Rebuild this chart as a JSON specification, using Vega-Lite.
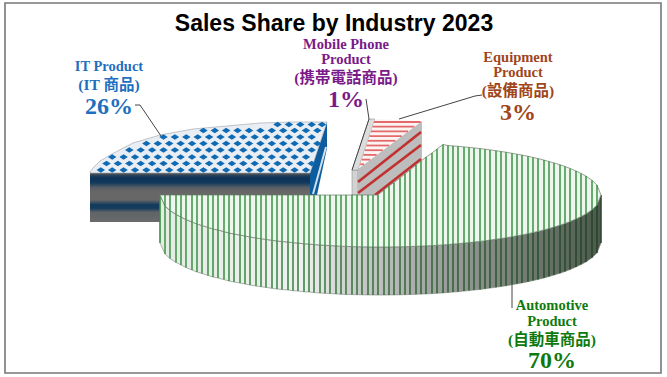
{"$schema":"https://vega.github.io/schema/vega-lite/v6.json","width":667,"height":377,"padding":0,"autosize":{"type":"fit","contains":"padding"},"background":"white","config":{"view":{"stroke":null}},
"datasets":{
"auto":[{"x":160,"top":195,"mid":195,"bot":243},{"x":165,"top":195,"mid":206,"bot":254},{"x":170,"top":195,"mid":210.5,"bot":258.5},{"x":176,"top":195,"mid":214.4,"bot":262.4},{"x":181,"top":195,"mid":217,"bot":265},{"x":186,"top":195,"mid":219.5,"bot":267.5},{"x":192,"top":195,"mid":222,"bot":270},{"x":197,"top":195,"mid":224,"bot":272},{"x":202,"top":195,"mid":225.5,"bot":273.5},{"x":208,"top":195,"mid":227.4,"bot":275.4},{"x":213,"top":195,"mid":229,"bot":277},{"x":218,"top":195,"mid":230,"bot":278},{"x":224,"top":195,"mid":231.6,"bot":279.6},{"x":229,"top":195,"mid":233,"bot":281},{"x":234,"top":195,"mid":234,"bot":282},{"x":240,"top":195,"mid":235,"bot":283},{"x":245,"top":195,"mid":236,"bot":284},{"x":250,"top":195,"mid":237,"bot":285},{"x":256,"top":195,"mid":238,"bot":286},{"x":261,"top":195,"mid":238.7,"bot":286.7},{"x":266,"top":195,"mid":239.4,"bot":287.4},{"x":272,"top":195,"mid":240.3,"bot":288.3},{"x":277,"top":195,"mid":241,"bot":289},{"x":282,"top":195,"mid":241.5,"bot":289.5},{"x":288,"top":195,"mid":242,"bot":290},{"x":293,"top":195,"mid":242.7,"bot":290.7},{"x":298,"top":195,"mid":243,"bot":291},{"x":304,"top":195,"mid":243.8,"bot":291.8},{"x":309,"top":195,"mid":244,"bot":292},{"x":314,"top":195,"mid":244.6,"bot":292.6},{"x":320,"top":195,"mid":245,"bot":293},{"x":325,"top":195,"mid":245.3,"bot":293.3},{"x":330,"top":195,"mid":245.6,"bot":293.6},{"x":336,"top":195,"mid":245.9,"bot":293.9},{"x":341,"top":195,"mid":246.2,"bot":294.2},{"x":346,"top":195,"mid":246.4,"bot":294.4},{"x":352,"top":195,"mid":246.6,"bot":294.6},{"x":357,"top":195,"mid":246.7,"bot":294.7},{"x":362,"top":195,"mid":246.8,"bot":294.8},{"x":368,"top":195,"mid":246.9,"bot":294.9},{"x":373,"top":195,"mid":247,"bot":295},{"x":378,"top":195,"mid":247,"bot":295},{"x":384,"top":190,"mid":247,"bot":295},{"x":389,"top":186,"mid":247,"bot":295},{"x":394,"top":182.5,"mid":246.9,"bot":294.9},{"x":400,"top":178,"mid":246.8,"bot":294.8},{"x":405,"top":174,"mid":246.7,"bot":294.7},{"x":410,"top":170,"mid":246.5,"bot":294.5},{"x":416,"top":165,"mid":246.3,"bot":294.3},{"x":421,"top":161,"mid":246.1,"bot":294.1},{"x":426,"top":157,"mid":245.9,"bot":293.9},{"x":432,"top":153,"mid":245.6,"bot":293.6},{"x":437,"top":149,"mid":245.3,"bot":293.3},{"x":443,"top":144.5,"mid":244.9,"bot":292.9},{"x":448,"top":145.5,"mid":244.5,"bot":292.5},{"x":453,"top":145.9,"mid":244.1,"bot":292.1},{"x":458,"top":146.3,"mid":243.7,"bot":291.7},{"x":464,"top":146.9,"mid":243.1,"bot":291.1},{"x":469,"top":147.4,"mid":242.6,"bot":290.6},{"x":474,"top":147.9,"mid":242.1,"bot":290.1},{"x":480,"top":148.6,"mid":241.4,"bot":289.4},{"x":485,"top":149.2,"mid":240.8,"bot":288.8},{"x":490,"top":149.9,"mid":240.1,"bot":288.1},{"x":496,"top":150.7,"mid":239.3,"bot":287.3},{"x":501,"top":151.5,"mid":238.5,"bot":286.5},{"x":506,"top":152.2,"mid":237.8,"bot":285.8},{"x":512,"top":153.3,"mid":236.7,"bot":284.7},{"x":517,"top":154.2,"mid":235.8,"bot":283.8},{"x":522,"top":155.1,"mid":234.9,"bot":282.9},{"x":528,"top":156.3,"mid":233.7,"bot":281.7},{"x":533,"top":157.4,"mid":232.6,"bot":280.6},{"x":538,"top":158.6,"mid":231.4,"bot":279.4},{"x":544,"top":160.1,"mid":229.9,"bot":277.9},{"x":549,"top":161.5,"mid":228.5,"bot":276.5},{"x":554,"top":162.9,"mid":227.1,"bot":275.1},{"x":560,"top":164.8,"mid":225.2,"bot":273.2},{"x":565,"top":166.5,"mid":223.5,"bot":271.5},{"x":570,"top":168.4,"mid":221.6,"bot":269.6},{"x":576,"top":171,"mid":219,"bot":267},{"x":581,"top":173.4,"mid":216.6,"bot":264.6},{"x":586,"top":176.1,"mid":213.9,"bot":261.9},{"x":592,"top":180.3,"mid":209.7,"bot":257.7},{"x":597,"top":185.1,"mid":204.9,"bot":252.9},{"x":601,"top":195,"mid":195,"bot":243}],
"diamonds":[
{"x":100.8,"y":170},{"x":112.2,"y":170},{"x":123.6,"y":170},{"x":135,"y":170},{"x":146.4,"y":170},{"x":157.8,"y":170},{"x":169.2,"y":170},{"x":180.6,"y":170},{"x":192,"y":170},{"x":203.4,"y":170},{"x":214.8,"y":170},{"x":226.2,"y":170},{"x":237.6,"y":170},{"x":249,"y":170},{"x":260.4,"y":170},{"x":271.8,"y":170},{"x":283.2,"y":170},{"x":294.6,"y":170},{"x":306,"y":170},
{"x":106.5,"y":163.5},{"x":117.9,"y":163.5},{"x":129.3,"y":163.5},{"x":140.7,"y":163.5},{"x":152.1,"y":163.5},{"x":163.5,"y":163.5},{"x":174.9,"y":163.5},{"x":186.3,"y":163.5},{"x":197.7,"y":163.5},{"x":209.1,"y":163.5},{"x":220.5,"y":163.5},{"x":231.9,"y":163.5},{"x":243.3,"y":163.5},{"x":254.7,"y":163.5},{"x":266.1,"y":163.5},{"x":277.5,"y":163.5},{"x":288.9,"y":163.5},{"x":300.3,"y":163.5},{"x":311.7,"y":163.5},
{"x":112.2,"y":157},{"x":123.6,"y":157},{"x":135,"y":157},{"x":146.4,"y":157},{"x":157.8,"y":157},{"x":169.2,"y":157},{"x":180.6,"y":157},{"x":192,"y":157},{"x":203.4,"y":157},{"x":214.8,"y":157},{"x":226.2,"y":157},{"x":237.6,"y":157},{"x":249,"y":157},{"x":260.4,"y":157},{"x":271.8,"y":157},{"x":283.2,"y":157},{"x":294.6,"y":157},{"x":306,"y":157},
{"x":129.3,"y":150},{"x":140.7,"y":150},{"x":152.1,"y":150},{"x":163.5,"y":150},{"x":174.9,"y":150},{"x":186.3,"y":150},{"x":197.7,"y":150},{"x":209.1,"y":150},{"x":220.5,"y":150},{"x":231.9,"y":150},{"x":243.3,"y":150},{"x":254.7,"y":150},{"x":266.1,"y":150},{"x":277.5,"y":150},{"x":288.9,"y":150},{"x":300.3,"y":150},{"x":311.7,"y":150},
{"x":146.4,"y":143.5},{"x":157.8,"y":143.5},{"x":169.2,"y":143.5},{"x":180.6,"y":143.5},{"x":192,"y":143.5},{"x":203.4,"y":143.5},{"x":214.8,"y":143.5},{"x":226.2,"y":143.5},{"x":237.6,"y":143.5},{"x":249,"y":143.5},{"x":260.4,"y":143.5},{"x":271.8,"y":143.5},{"x":283.2,"y":143.5},{"x":294.6,"y":143.5},{"x":306,"y":143.5},{"x":317.4,"y":143.5},
{"x":163.5,"y":137},{"x":174.9,"y":137},{"x":186.3,"y":137},{"x":197.7,"y":137},{"x":209.1,"y":137},{"x":220.5,"y":137},{"x":231.9,"y":137},{"x":243.3,"y":137},{"x":254.7,"y":137},{"x":266.1,"y":137},{"x":277.5,"y":137},{"x":288.9,"y":137},{"x":300.3,"y":137},{"x":311.7,"y":137},
{"x":203.4,"y":130.5},{"x":214.8,"y":130.5},{"x":226.2,"y":130.5},{"x":237.6,"y":130.5},{"x":249,"y":130.5},{"x":260.4,"y":130.5},{"x":271.8,"y":130.5},{"x":283.2,"y":130.5},{"x":294.6,"y":130.5},{"x":306,"y":130.5},{"x":317.4,"y":130.5},
{"x":277.5,"y":124.5},{"x":288.9,"y":124.5},{"x":300.3,"y":124.5},{"x":311.7,"y":124.5},{"x":322,"y":124.5}],
"leaders":[{"x":135,"y":105,"x2":140,"y2":105},{"x":140,"y":105,"x2":161,"y2":136},{"x":366,"y":99,"x2":369,"y2":119},{"x":369,"y":119,"x2":352,"y2":170},{"x":482,"y":95,"x2":475,"y2":96},{"x":475,"y":96,"x2":399,"y2":119},{"x":512,"y":285,"x2":512,"y2":308}],
"names":[{"text":"IT Product","segment":"IT","x":109,"y":67},{"text":"Mobile Phone","segment":"Mobile","x":346,"y":45},{"text":"Product","segment":"Mobile","x":346,"y":60},{"text":"Equipment","segment":"Equipment","x":518,"y":58},{"text":"Product","segment":"Equipment","x":518,"y":73},{"text":"Automotive","segment":"Automotive","x":552,"y":306},{"text":"Product","segment":"Automotive","x":552,"y":322}],
"names2":[{"text":"(IT 商品)","segment":"IT","x":109,"y":85},{"text":"(携帯電話商品)","segment":"Mobile","x":346,"y":78},{"text":"(設備商品)","segment":"Equipment","x":518,"y":91},{"text":"(自動車商品)","segment":"Automotive","x":552,"y":340}],
"shares":[{"text":"26%","segment":"IT","x":109,"y":107},{"text":"1%","segment":"Mobile","x":346,"y":100},{"text":"3%","segment":"Equipment","x":518,"y":113},{"text":"70%","segment":"Automotive","x":552,"y":361}]
},
"encoding":{"x":{"field":"x","type":"quantitative","scale":{"domain":[0,667],"nice":false,"zero":false},"axis":null},"y":{"field":"y","type":"quantitative","scale":{"domain":[0,377],"nice":false,"zero":false,"reverse":true},"axis":null}},
"layer":[
{"data":{"values":[{"x":5,"y":3,"x2":661,"y2":373}]},"mark":{"type":"rect","fill":"white","stroke":"#777777","strokeWidth":1.6},"encoding":{"x2":{"field":"x2"},"y2":{"field":"y2"}}},
{"data":{"values":[{"x":90,"y":173,"y2":222},{"x":310,"y":173,"y2":222}]},"mark":{"type":"area","fill":{"gradient":"linear","x1":0,"y1":0,"x2":0,"y2":1,"stops":[{"offset":0,"color":"#5f5f5f"},{"offset":0.05,"color":"#2a4158"},{"offset":0.1,"color":"#0c3358"},{"offset":0.2,"color":"#123a5c"},{"offset":0.3,"color":"#5a5f66"},{"offset":0.38,"color":"#676767"},{"offset":0.55,"color":"#676767"},{"offset":0.65,"color":"#123a5c"},{"offset":0.72,"color":"#143c5e"},{"offset":0.8,"color":"#5f6468"},{"offset":1,"color":"#6a6a6a"}]}},"encoding":{"y2":{"field":"y2"}}},
{"data":{"values":[{"x":310,"y":173,"y2":195},{"x":317,"y":152,"y2":195},{"x":327,"y":122,"y2":148}]},"mark":{"type":"area","fill":"#0d5c9e"},"encoding":{"y2":{"field":"y2"}}},
{"data":{"values":[{"x":313,"y":194,"x2":326,"y2":147}]},"mark":{"type":"rule","stroke":"#cfe0ef","strokeWidth":2},"encoding":{"x2":{"field":"x2"},"y2":{"field":"y2"}}},
{"data":{"values":[{"x":90,"y":172,"y2":173},{"x":93,"y":168,"y2":173},{"x":100,"y":161,"y2":173},{"x":110,"y":155,"y2":173},{"x":133,"y":143,"y2":173},{"x":160,"y":135,"y2":173},{"x":193,"y":129,"y2":173},{"x":227,"y":126,"y2":173},{"x":260,"y":123,"y2":173},{"x":293,"y":122,"y2":173},{"x":310,"y":122,"y2":173},{"x":327,"y":122,"y2":122}]},"mark":{"type":"area","fill":"#e9eef4","stroke":"#9aa0a6","strokeWidth":0.6},"encoding":{"y2":{"field":"y2"}}},
{"data":{"name":"diamonds"},"mark":{"type":"point","filled":true,"opacity":1,"shape":"M-1,0L0,-0.65L1,0L0,0.65Z","size":72,"fill":"#0f6ab4","strokeWidth":0}},
{"data":{"values":[{"x":352,"y":170,"y2":195},{"x":358,"y":170,"y2":195}]},"mark":{"type":"area","fill":"#d2d2d2","stroke":"#909090","strokeWidth":0.6},"encoding":{"y2":{"field":"y2"}}},
{"data":{"values":[{"x":352,"y":170,"y2":170},{"x":358,"y":152,"y2":170},{"x":369,"y":119,"y2":137},{"x":375,"y":119,"y2":119}]},"mark":{"type":"area","fill":"#dcdcdc","stroke":"#909090","strokeWidth":0.6},"encoding":{"y2":{"field":"y2"}}},
{"data":{"values":[{"x":358,"y":169,"y2":195},{"x":378,"y":154,"y2":195},{"x":422,"y":121,"y2":160}]},"mark":{"type":"area","fill":"#bdbdbd"},"encoding":{"y2":{"field":"y2"}}},
{"data":{"values":[{"x":358,"y":182,"x2":421,"y2":132},{"x":358,"y":193,"x2":421,"y2":145},{"x":375,"y":195,"x2":421,"y2":159}]},"mark":{"type":"rule","stroke":"#c2302f","strokeWidth":2.6},"encoding":{"x2":{"field":"x2"},"y2":{"field":"y2"}}},
{"data":{"values":[{"x":359,"y":168,"y2":168},{"x":375,"y":119,"y2":156},{"x":422,"y":121,"y2":121}]},"mark":{"type":"area","fill":"#fdf3f3"},"encoding":{"y2":{"field":"y2"}}},
{"data":{"values":[{"x":374,"x2":420.6,"y":122},{"x":372.5,"x2":414.3,"y":126.7},{"x":371,"x2":408,"y":131.4},{"x":369.4,"x2":401.8,"y":136.1},{"x":367.9,"x2":395.4,"y":140.8},{"x":366.4,"x2":389.2,"y":145.5},{"x":364.8,"x2":382.8,"y":150.2},{"x":363.3,"x2":376.6,"y":154.9},{"x":361.8,"x2":370.3,"y":159.6},{"x":360.2,"x2":364,"y":164.3}]},"mark":{"type":"rule","stroke":"#e26a6a","strokeWidth":1.8},"encoding":{"x2":{"field":"x2"}}},
{"data":{"name":"auto"},"mark":{"type":"area","stroke":"#7a857a","strokeWidth":0.6,"fill":{"gradient":"linear","x1":0,"y1":0,"x2":1,"y2":0,"stops":[{"offset":0,"color":"#e4ece4"},{"offset":0.32,"color":"#eef2ee"},{"offset":0.45,"color":"#c8cac8"},{"offset":0.65,"color":"#9a9e9a"},{"offset":0.85,"color":"#6d786d"},{"offset":1,"color":"#4b5a4b"}]}},"encoding":{"y":{"field":"mid","type":"quantitative"},"y2":{"field":"bot"}}},
{"data":{"name":"auto"},"mark":{"type":"rule","strokeWidth":1.4},"encoding":{"y":{"field":"mid","type":"quantitative"},"y2":{"field":"bot"},"stroke":{"field":"x","type":"quantitative","scale":{"domain":[160,601],"range":["#2f8f38","#243f28"]},"legend":null}}},
{"data":{"name":"auto"},"mark":{"type":"area","fill":"#eef7ee","stroke":"#6b7a6b","strokeWidth":0.7},"encoding":{"y":{"field":"top","type":"quantitative"},"y2":{"field":"mid"}}},
{"data":{"name":"auto"},"mark":{"type":"rule","stroke":"#2f8a3a","strokeWidth":1.4},"encoding":{"y":{"field":"top","type":"quantitative"},"y2":{"field":"mid"}}},
{"data":{"name":"leaders"},"mark":{"type":"rule","stroke":"#444444","strokeWidth":1},"encoding":{"x2":{"field":"x2"},"y2":{"field":"y2"}}},
{"data":{"values":[{"text":"Sales Share by Industry 2023","x":334,"y":24}]},"mark":{"type":"text","font":"Liberation Sans","fontWeight":"bold","fontSize":23,"fill":"#000000","align":"center","baseline":"middle"},"encoding":{"text":{"field":"text"}}},
{"data":{"name":"names"},"mark":{"type":"text","font":"Liberation Serif","fontWeight":"bold","fontSize":14.5,"align":"center","baseline":"middle"},"encoding":{"text":{"field":"text"},"color":{"field":"segment","type":"nominal","scale":{"domain":["IT","Mobile","Equipment","Automotive"],"range":["#1f6fc0","#7a1a8a","#a0461a","#0e7a0e"]},"legend":null}}},
{"data":{"name":"names2"},"mark":{"type":"text","font":"Liberation Serif, Noto Sans CJK TC","fontWeight":"bold","fontSize":15.5,"align":"center","baseline":"middle"},"encoding":{"text":{"field":"text"},"color":{"field":"segment","type":"nominal","legend":null}}},
{"data":{"name":"shares"},"mark":{"type":"text","font":"Liberation Serif","fontWeight":"bold","fontSize":24,"align":"center","baseline":"middle"},"encoding":{"text":{"field":"text"},"color":{"field":"segment","type":"nominal","legend":null}}}
]}
